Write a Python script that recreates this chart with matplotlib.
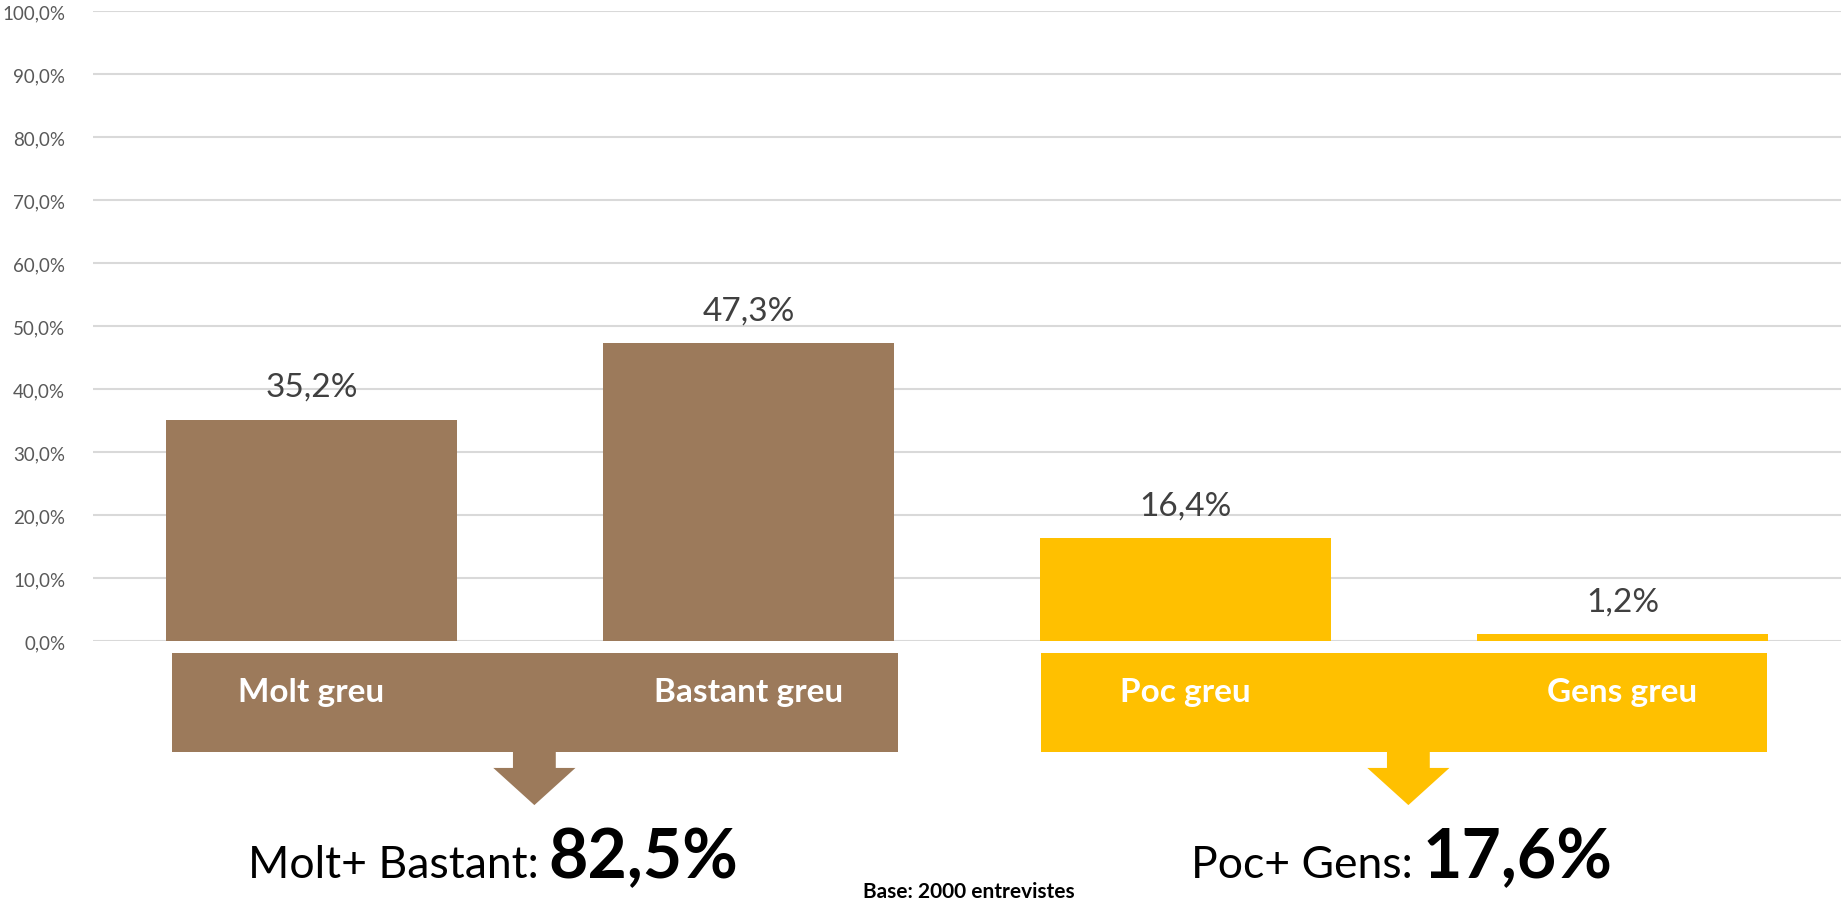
import matplotlib.pyplot as plt
import matplotlib.patches as patches
from matplotlib.ticker import FuncFormatter

plt.rcParams['font.family'] = ['Lato', 'DejaVu Sans']

# data
categories = ["Molt greu", "Bastant greu", "Poc greu", "Gens greu"]
values = [35.2, 47.3, 16.4, 1.2]
group_labels = ["Molt+ Bastant: ", "Poc+ Gens: "]
group_totals = ["82,5%", "17,6%"]
group_members = [(0, 1), (2, 3)]
base_note = "Base: 2000 entrevistes"

brown = "#9C7A5B"
yellow = "#FFC000"
group_colors = [brown, yellow]
bar_colors = [brown, brown, yellow, yellow]

fig = plt.figure(figsize=(18.41, 9.04), dpi=100)
ax = fig.add_axes([93 / 1841, (904 - 642.3) / 904, 1 - 93 / 1841, 630 / 904])

bar_w = 0.667
x = range(len(categories))
ax.bar(x, values, width=bar_w, color=bar_colors, zorder=2)

for i, v in enumerate(values):
    ax.annotate(f"{v:.1f}%".replace(".", ","), (i, v), xytext=(0, 23.5),
                textcoords="offset points", ha="center", va="center",
                fontsize=24, color="#404040")

ax.set_xlim(-0.5, len(categories) - 0.5)
ax.set_ylim(0, 100)
ax.set_yticks(range(0, 101, 10))
ax.yaxis.set_major_formatter(FuncFormatter(lambda v, p: f"{v:.1f}%".replace(".", ",")))
ax.tick_params(axis="y", length=0, pad=20, labelsize=13.5, labelcolor="#595959")
ax.set_xticks([])
ax.grid(axis="y", color="#D9D9D9", linewidth=1.5, zorder=0)
ax.set_axisbelow(True)
for s in ax.spines.values():
    s.set_visible(False)

# banners with labels, arrows and totals below the axis
ban_top, ban_bot = -1.8, -17.5
head_y, tip_y = -20.1, -26.0
shaft_hw, head_hw = 0.049, 0.094
for g, (a, b) in enumerate(group_members):
    col = group_colors[g]
    left = a - bar_w / 2 + (0.015 if g == 0 else 0.003)
    right = b + bar_w / 2 + (0.008 if g == 0 else -0.003)
    ax.add_patch(patches.Rectangle((left, ban_bot), right - left, ban_top - ban_bot,
                                   facecolor=col, edgecolor="none", clip_on=False))
    for i in (a, b):
        ax.text(i, -9.4, categories[i], ha="center", va="baseline", fontsize=24,
                fontweight="bold", color="white", clip_on=False)
    cx = (a + b) / 2 + 0.01
    arrow = [(cx - shaft_hw, ban_bot + 0.1), (cx + shaft_hw, ban_bot + 0.1),
             (cx + shaft_hw, head_y), (cx + head_hw, head_y), (cx, tip_y),
             (cx - head_hw, head_y), (cx - shaft_hw, head_y)]
    ax.add_patch(patches.Polygon(arrow, closed=True, facecolor=col,
                                 edgecolor="none", clip_on=False))
    sx = (a + b) / 2 + 0.032
    ax.annotate(group_labels[g].rstrip(), (sx, -37.4), xytext=(-4, 0),
                textcoords="offset points", ha="right", va="baseline",
                fontsize=32, color="black", annotation_clip=False)
    ax.annotate(group_totals[g], (sx, -37.4), xytext=(3, 0),
                textcoords="offset points", ha="left", va="baseline",
                fontsize=49, fontweight="bold", color="black", annotation_clip=False)

fig.text(969 / 1841, 1 - 892 / 904, base_note, ha="center", va="center",
         fontsize=15, fontweight="bold", color="black")

fig.savefig("out.png", dpi=100)
